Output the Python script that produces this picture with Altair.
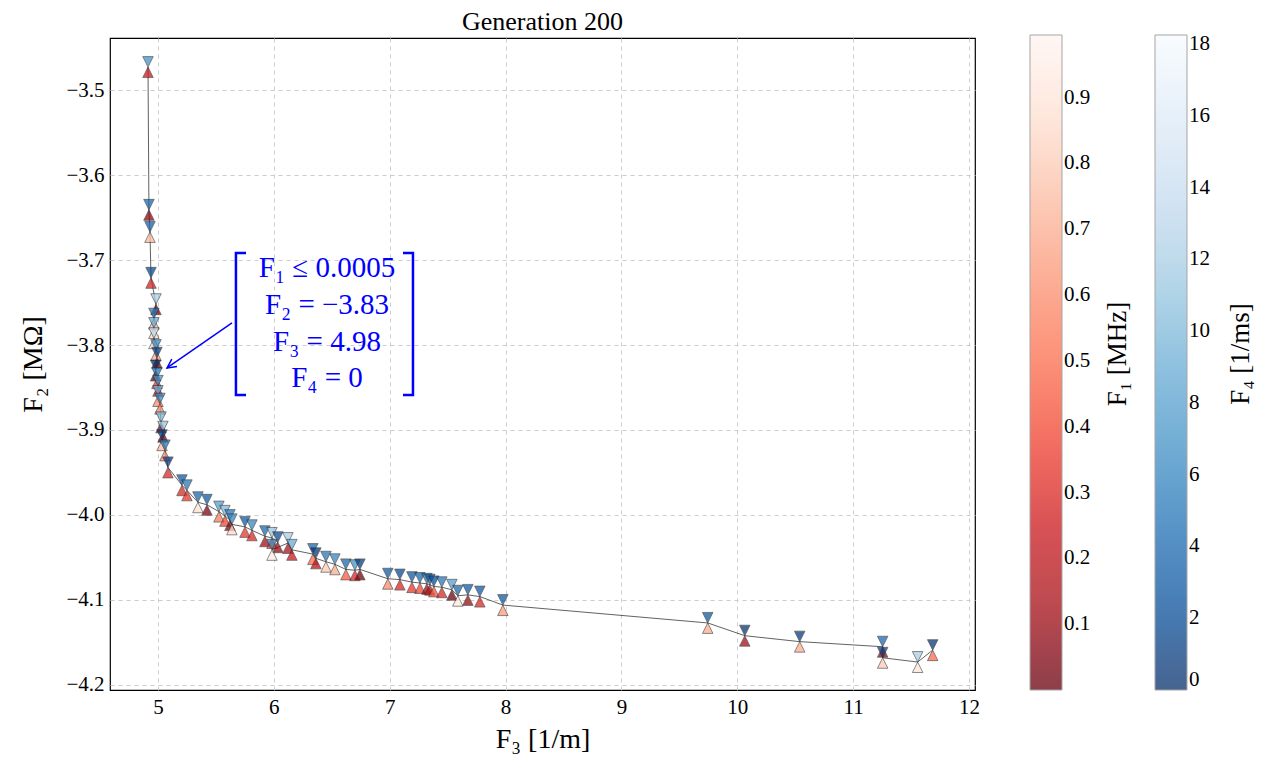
import altair as alt
import pandas as pd

# ---- data ----
f3 = [4.914, 4.922, 4.931, 4.940, 4.983, 4.965, 4.965, 4.965, 4.983, 4.991,
      4.980, 4.991, 5.000, 5.000, 5.017, 5.026, 5.043, 5.035, 5.060, 5.086,
      5.207, 5.250, 5.345, 5.423, 5.526, 5.578, 5.621, 5.638, 5.751, 5.811,
      5.923, 5.984, 6.035, 5.984, 6.122, 6.156, 6.337, 6.363, 6.450, 6.527,
      6.622, 6.700, 6.743, 6.984, 7.088, 7.192, 7.261, 7.321, 7.347, 7.381,
      7.450, 7.537, 7.588, 7.675, 7.778, 7.977, 9.745, 10.065, 10.539, 11.255,
      11.255, 11.557, 11.687]
f2 = [-3.473, -3.641, -3.667, -3.721, -3.752, -3.769, -3.780, -3.792, -3.806, -3.815,
      -3.830, -3.839, -3.848, -3.860, -3.869, -3.891, -3.902, -3.912, -3.924, -3.944,
      -3.965, -3.971, -3.985, -3.988, -3.996, -4.001, -4.006, -4.011, -4.014, -4.018,
      -4.025, -4.027, -4.032, -4.041, -4.033, -4.041, -4.046, -4.051, -4.055, -4.058,
      -4.064, -4.065, -4.064, -4.075, -4.076, -4.079, -4.080, -4.081, -4.082, -4.084,
      -4.085, -4.088, -4.095, -4.094, -4.096, -4.106, -4.127, -4.142, -4.149, -4.155,
      -4.168, -4.173, -4.159]
f1 = [0.25, 0.08, 0.75, 0.28, 0.05, 0.75, 0.85, 0.90, 0.70, 0.03,
      0.0005, 0.35, 0.30, 0.60, 0.60, 0.05, 0.02, 0.75, 0.60, 0.30,
      0.30, 0.35, 0.88, 0.05, 0.55, 0.40, 0.06, 0.85, 0.35, 0.30,
      0.12, 0.40, 0.10, 0.95, 0.15, 0.25, 0.50, 0.20, 0.80, 0.70,
      0.45, 0.30, 0.03, 0.60, 0.30, 0.35, 0.40, 0.10, 0.20, 0.45,
      0.30, 0.02, 0.92, 0.10, 0.30, 0.65, 0.70, 0.12, 0.70, 0.10,
      0.80, 0.90, 0.50]
f4 = [7, 4, 3.5, 2, 12, 5, 9, 14, 6, 1,
      0, 5, 7, 9, 6, 10, 11, 1, 5, 1,
      3, 5, 4, 3, 8, 10, 5, 6, 3, 6,
      4, 11, 2, 6, 12, 9, 4, 0.5, 5, 6,
      4, 7, 1, 3, 2, 3, 4, 5, 3, 2,
      5, 8, 4, 3, 3, 3, 3, 0.5, 1, 4,
      1, 12, 0.5]

x_ticks = [5, 6, 7, 8, 9, 10, 11, 12]
y_ticks = [-4.2, -4.1, -4.0, -3.9, -3.8, -3.7, -3.6, -3.5]
f1_ticks = [0.1, 0.2, 0.3, 0.4, 0.5, 0.6, 0.7, 0.8, 0.9]
f4_ticks = [0, 2, 4, 6, 8, 10, 12, 14, 16, 18]

# colour maps (ColorBrewer Reds / Blues, reversed: dark at low values)
reds_r = ["#67000d", "#a50f15", "#cb181d", "#ef3b2c", "#fb6a4a",
          "#fc9272", "#fcbba1", "#fee0d2", "#fff5f0"]
blues_r = ["#08306b", "#08519c", "#2171b5", "#4292c6", "#6baed6",
           "#9ecae1", "#c6dbef", "#deebf7", "#f7fbff"]

title_text = "Generation 200"
x_title = "F₃ [1/m]"
y_title = "F₂ [MΩ]"
cb1_title = "F₁ [MHz]"
cb4_title = "F₄ [1/ms]"

ann_lines = ["F₁ ≤ 0.0005", "F₂ = −3.83", "F₃ = 4.98", "F₄ = 0"]
ann_x = [6.459, 6.459, 6.459, 6.459]
ann_y = [-3.7094, -3.7529, -3.7965, -3.8388]
br_x = [5.760, 5.673, 5.673, 5.760, 7.115, 7.201, 7.201, 7.115]
br_y = [-3.6918, -3.6918, -3.8588, -3.8588, -3.6918, -3.6918, -3.8588, -3.8588]
br_grp = ["L", "L", "L", "L", "R", "R", "R", "R"]
br_ord = [0, 1, 2, 3, 0, 1, 2, 3]
arrow_tail = (5.639, -3.774)
arrow_tip = (5.078, -3.827)

FONT = "Liberation Serif"
BLUE = "#0000ff"

df = pd.DataFrame({"f3": f3, "f2": f2, "f1": f1, "f4": f4, "idx": list(range(len(f3)))})

xscale = alt.Scale(domain=[4.586, 12.052], nice=False, zero=False)
yscale = alt.Scale(domain=[-4.2059, -3.4388], nice=False, zero=False)
xaxis = alt.Axis(values=x_ticks, format="d", title=x_title)
yaxis = alt.Axis(values=y_ticks, format=".1f", title=y_title)


def X(f):
    return alt.X(f"{f}:Q", scale=xscale, axis=xaxis)


def Y(f):
    return alt.Y(f"{f}:Q", scale=yscale, axis=yaxis)


DOWN = "M-1,-2L1,-2L0,0Z"
UP = "M-1,2L1,2L0,0Z"
CHEV = "M2,-1L0,0L2,1"

base = alt.Chart(df)

line = base.mark_line(color="#3a3a3a", strokeWidth=0.8).encode(
    x=X("f3"), y=Y("f2"), order="idx:Q")

up = base.mark_point(shape=UP, filled=True, size=110, opacity=0.75,
                     stroke="#222222", strokeWidth=0.7).encode(
    x=X("f3"), y=Y("f2"),
    fill=alt.Fill("f1:Q",
                  scale=alt.Scale(range=reds_r, domain=[0, 0.995]),
                  legend=alt.Legend(orient="none", legendX=920, legendY=-3,
                                    direction="vertical", gradientLength=655,
                                    gradientThickness=32, values=f1_ticks,
                                    format=".1f", title=None)))

down = base.mark_point(shape=DOWN, filled=True, size=110, opacity=0.75,
                       stroke="#222222", strokeWidth=0.7).encode(
    x=X("f3"), y=Y("f2"),
    fill=alt.Fill("f4:Q",
                  scale=alt.Scale(range=blues_r, domain=[0, 18.25]),
                  legend=alt.Legend(orient="none", legendX=1045, legendY=-3,
                                    direction="vertical", gradientLength=655,
                                    gradientThickness=32, values=f4_ticks,
                                    format="d", title=None)))

ann_df = pd.DataFrame({"ax": ann_x, "ay": ann_y, "t": ann_lines})
ann = alt.Chart(ann_df).mark_text(font=FONT, fontSize=29, color=BLUE,
                                  align="center", baseline="middle").encode(
    x=X("ax"), y=Y("ay"), text="t:N")

br_df = pd.DataFrame({"bx": br_x, "by": br_y, "g": br_grp, "o": br_ord})
brackets = alt.Chart(br_df).mark_line(color=BLUE, strokeWidth=2.5).encode(
    x=X("bx"), y=Y("by"), detail="g:N", order="o:Q")

arr_df = pd.DataFrame({"x1": [arrow_tail[0]], "y1": [arrow_tail[1]],
                       "x2": [arrow_tip[0]], "y2": [arrow_tip[1]]})
arrow = alt.Chart(arr_df).mark_rule(color=BLUE, strokeWidth=1.5).encode(
    x=X("x1"), y=Y("y1"), x2="x2:Q", y2="y2:Q")
head = alt.Chart(arr_df).mark_point(shape=CHEV, filled=False, size=81, angle=325,
                                    color=BLUE, strokeWidth=1.5, opacity=1).encode(
    x=X("x2"), y=Y("y2"))

cbt_df = pd.DataFrame({"t": [cb1_title, cb4_title], "px": [1008, 1131]})
cbt = alt.Chart(cbt_df).mark_text(font=FONT, fontSize=27, angle=270, color="black",
                                  align="center", baseline="middle").encode(
    x=alt.X("px:Q", scale=None), y=alt.value(316), text="t:N")

chart = alt.layer(line, up, down, brackets, arrow, head, ann, cbt).resolve_scale(
    fill="independent"
).properties(
    width=865, height=652,
    title=alt.TitleParams(title_text, font=FONT, fontSize=26, fontWeight="normal",
                          color="black", offset=0),
    autosize=alt.AutoSizeParams(type="none"),
    padding={"left": 102, "top": 30, "right": 280, "bottom": 66},
).configure_view(
    stroke="black", strokeWidth=1.2
).configure_axis(
    labelFont=FONT, labelFontSize=21, labelColor="black",
    titleFont=FONT, titleFontSize=28, titleFontWeight="normal", titleColor="black",
    grid=True, gridColor="#cccccc", gridDash=[4, 4], gridWidth=1,
    domain=False, ticks=False, labelPadding=6,
).configure_axisX(titlePadding=8).configure_axisY(titlePadding=18).configure_legend(
    labelFont=FONT, labelFontSize=21, labelColor="black", labelOffset=4,
    gradientStrokeColor="#888888", gradientStrokeWidth=1, padding=0,
)

chart.save("out.html", embed_options={"renderer": "svg", "actions": False})
